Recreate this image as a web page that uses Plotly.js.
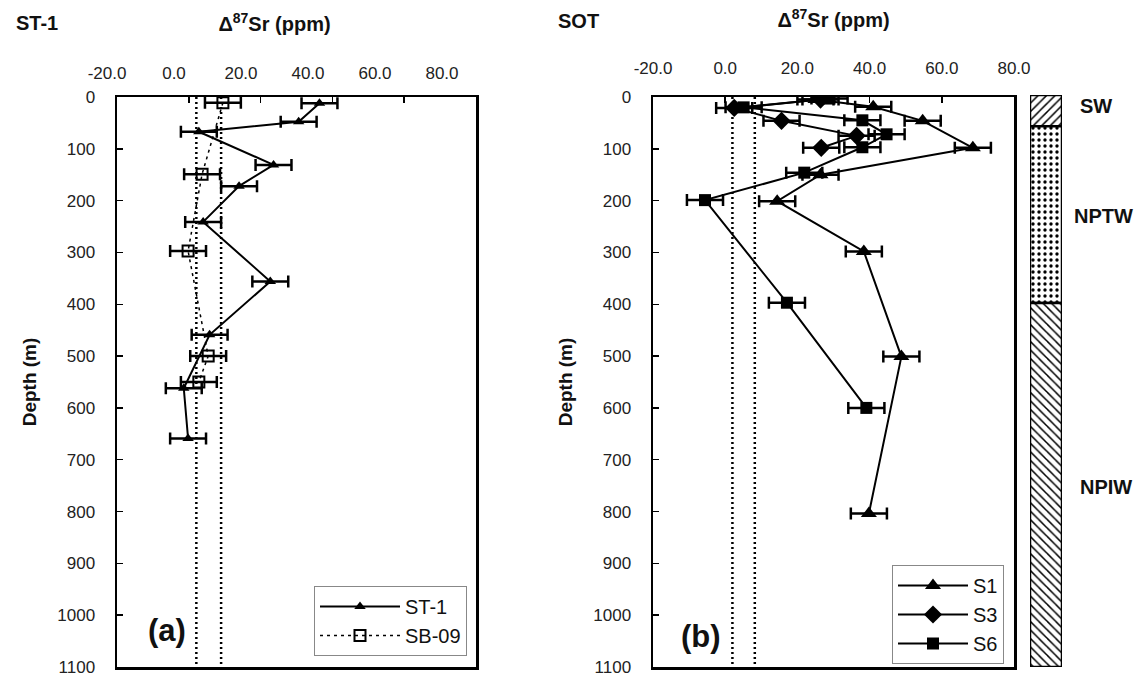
<!DOCTYPE html>
<html>
<head>
<meta charset="utf-8">
<script src="https://cdn.plot.ly/plotly-3.0.1.min.js"></script>
<style>html,body{margin:0;padding:0;background:#fff;}#chart{width:1144px;height:677px;}</style>
</head>
<body>
<div id="chart"></div>
<script>
// ---------- data ----------
const depthTicks = [0,100,200,300,400,500,600,700,800,900,1000,1100];
const depthTickText = ['0','100','200','300','400','500','600','700','800','900','1000','1100'];
const srTicks = [-20,0,20,40,60,80];
const srTickText = ['-20.0','0.0','20.0','40.0','60.0','80.0'];

// panel (a) ST-1 and SB-09
const st1Depth = [12, 48, 67, 131, 172, 241, 356, 459, 562, 659];
const st1Value = [36.4, 30.6, 2.8, 23.6, 14.0, 4.0, 22.7, 5.8, -1.4, -0.2];
const sb09Depth = [11, 149, 297, 500, 550];
const sb09Value = [9.5, 3.7, -0.2, 5.4, 2.8];
const refLinesA = [2.1, 9.0];

// panel (b) SOT stations
const s1Depth = [5, 19, 46, 98, 150, 201, 298, 501, 804];
const s1Value = [25.0, 41.0, 54.7, 68.6, 26.4, 14.4, 38.4, 48.8, 39.8];
const s3Depth = [5, 21, 46, 75, 98];
const s3Value = [26.4, 2.5, 15.6, 36.4, 26.6];
const s6Depth = [3, 20, 45, 72, 97, 146, 199, 397, 600];
const s6Value = [28.9, 5.1, 38.0, 44.7, 38.0, 21.9, -5.6, 17.1, 39.1];
const refLinesB = [2.0, 8.2];

const errorPpm = 5;

// water masses
const wmNames = ['SW', 'NPTW', 'NPIW'];
const wmTop = [0, 60, 400];
const wmBottom = [60, 400, 1100];
const wmLabelDepth = [22, 232, 753];

// ---------- helpers ----------
const W = 1144, H = 677;
const fx = p => p / W;
const fy = p => 1 - p / H;
const FONT = 'Liberation Sans, Arial, Helvetica, sans-serif';

const errBar = {type: 'constant', value: errorPpm, thickness: 2.5, width: 6, color: 'black'};

const traces = [];

refLinesA.forEach(v => traces.push({
  x: [v, v], y: [0, 1100], xaxis: 'x', yaxis: 'y', mode: 'lines',
  line: {color: 'black', width: 2.5, dash: '2px,3px'}, showlegend: false, hoverinfo: 'skip'
}));
refLinesB.forEach(v => traces.push({
  x: [v, v], y: [0, 1100], xaxis: 'x2', yaxis: 'y2', mode: 'lines',
  line: {color: 'black', width: 2.5, dash: '2px,3px'}, showlegend: false, hoverinfo: 'skip'
}));

traces.push({
  name: 'ST-1', x: st1Value, y: st1Depth, xaxis: 'x', yaxis: 'y', mode: 'lines+markers',
  line: {color: 'black', width: 2},
  marker: {symbol: 'triangle-up', size: 10, color: 'black'},
  error_x: errBar, legend: 'legend'
});
traces.push({
  name: 'SB-09', x: sb09Value, y: sb09Depth, xaxis: 'x', yaxis: 'y', mode: 'lines+markers',
  line: {color: 'black', width: 1.5, dash: '3px,4px'},
  marker: {symbol: 'square-open', size: 11, color: 'black', line: {width: 2, color: 'black'}},
  error_x: errBar, legend: 'legend'
});

traces.push({
  name: 'S1', x: s1Value, y: s1Depth, xaxis: 'x2', yaxis: 'y2', mode: 'lines+markers',
  line: {color: 'black', width: 2},
  marker: {symbol: 'triangle-up', size: 14, color: 'black'},
  error_x: errBar, legend: 'legend2'
});
traces.push({
  name: 'S3', x: s3Value, y: s3Depth, xaxis: 'x2', yaxis: 'y2', mode: 'lines+markers',
  line: {color: 'black', width: 2},
  marker: {symbol: 'diamond', size: 14, color: 'black'},
  error_x: errBar, legend: 'legend2'
});
traces.push({
  name: 'S6', x: s6Value, y: s6Depth, xaxis: 'x2', yaxis: 'y2', mode: 'lines+markers',
  line: {color: 'black', width: 2},
  marker: {symbol: 'square', size: 12, color: 'black'},
  error_x: errBar, legend: 'legend2'
});

// water mass column
traces.push({
  type: 'bar', x: wmNames.map(() => 0), y: wmTop.map((t, i) => wmBottom[i] - t), base: wmTop,
  xaxis: 'x3', yaxis: 'y3', width: 1, showlegend: false, hoverinfo: 'skip',
  marker: {color: 'white', line: {color: 'black', width: 2.5},
    pattern: {shape: ['/', '.', '\\'], fgcolor: 'black', bgcolor: 'white', size: 6, solidity: 0.25}}
});

// empty trace to attach the tick-label axis of panel a
traces.push({x: [], y: [], xaxis: 'x4', yaxis: 'y', mode: 'markers', showlegend: false, hoverinfo: 'skip'});

const frameAxis = {
  showline: true, linewidth: 2.5, linecolor: 'black', mirror: true,
  showgrid: false, zeroline: false, ticks: 'inside', ticklen: 6, tickwidth: 1.5, tickcolor: 'black'
};

const depthAxis = Object.assign({}, frameAxis, {
  range: [1100, 0], autorange: false, tickmode: 'array', tickvals: depthTicks, ticktext: depthTickText,
  tickfont: {size: 17, family: FONT, color: '#222'}, ticklabelstandoff: 16,
  domain: [fy(667), fy(97)],
  title: {text: '<b>Depth (m)</b>', font: {size: 19, family: FONT, color: '#111'}, standoff: 16}
});

const layout = {
  width: W, height: H, margin: {l: 0, r: 0, t: 0, b: 0},
  paper_bgcolor: 'white', plot_bgcolor: 'rgba(0,0,0,0)',
  font: {family: FONT, color: 'black'},
  barmode: 'overlay',
  xaxis: Object.assign({}, frameAxis, {
    domain: [fx(117), fx(476)], anchor: 'y', side: 'top', range: [-20, 80], autorange: false,
    tickmode: 'array', tickvals: srTicks, showticklabels: false
  }),
  yaxis: Object.assign({}, depthAxis, {anchor: 'x'}),
  xaxis4: {
    domain: [fx(107), fx(442)], anchor: 'y', side: 'top', range: [-20, 80], autorange: false,
    tickmode: 'array', tickvals: srTicks, ticktext: srTickText, ticks: '', showline: false,
    showgrid: false, zeroline: false, tickfont: {size: 17, family: FONT, color: '#222'}, ticklabelstandoff: 14,
    title: {text: '<b>Δ<sup>87</sup>Sr (ppm)</b>', font: {size: 20, family: FONT, color: '#111'}, standoff: 26}
  },
  xaxis2: Object.assign({}, frameAxis, {
    domain: [fx(653), fx(1014)], anchor: 'y2', side: 'top', range: [-20, 80], autorange: false,
    tickmode: 'array', tickvals: srTicks, ticktext: srTickText,
    tickfont: {size: 17, family: FONT, color: '#222'}, ticklabelstandoff: 14,
    title: {text: '<b>Δ<sup>87</sup>Sr (ppm)</b>', font: {size: 20, family: FONT, color: '#111'}, standoff: 26}
  }),
  yaxis2: Object.assign({}, depthAxis, {anchor: 'x2'}),
  xaxis3: {domain: [fx(1030), fx(1062)], anchor: 'y3', range: [-0.5, 0.5], visible: false, fixedrange: true},
  yaxis3: {domain: [fy(667), fy(95)], anchor: 'x3', range: [1100, 0], autorange: false, visible: false},
  legend: {
    x: fx(467), y: fy(586), xanchor: 'right', yanchor: 'top', bgcolor: 'white', itemwidth: 80,
    bordercolor: '#888', borderwidth: 1, font: {size: 20, family: FONT, color: '#111'}, tracegroupgap: 0
  },
  legend2: {
    x: fx(1004), y: fy(565), xanchor: 'right', yanchor: 'top', bgcolor: 'white', itemwidth: 70,
    bordercolor: '#888', borderwidth: 1, font: {size: 20, family: FONT, color: '#111'}, tracegroupgap: 0
  },
  annotations: [
    {text: '<b>ST-1</b>', xref: 'paper', yref: 'paper', x: fx(14), y: fy(23), xanchor: 'left', yanchor: 'middle', showarrow: false, font: {size: 20, family: FONT, color: '#111'}},
    {text: '<b>SOT</b>', xref: 'paper', yref: 'paper', x: fx(556), y: fy(21), xanchor: 'left', yanchor: 'middle', showarrow: false, font: {size: 20, family: FONT, color: '#111'}},
    {text: '<b>(a)</b>', xref: 'paper', yref: 'paper', x: fx(167), y: fy(630), xanchor: 'center', yanchor: 'middle', showarrow: false, font: {size: 31, family: FONT, color: '#111'}},
    {text: '<b>(b)</b>', xref: 'paper', yref: 'paper', x: fx(701), y: fy(636), xanchor: 'center', yanchor: 'middle', showarrow: false, font: {size: 31, family: FONT, color: '#111'}}
  ].concat(wmNames.map((n, i) => ({
    text: '<b>' + n + '</b>', xref: 'paper', yref: 'y3', x: fx([1096, 1103, 1106][i]), y: wmLabelDepth[i],
    xanchor: 'center', yanchor: 'middle', showarrow: false, font: {size: 20, family: FONT, color: '#111'}
  })))
};

Plotly.newPlot('chart', traces, layout, {staticPlot: true});
</script>
</body>
</html>
